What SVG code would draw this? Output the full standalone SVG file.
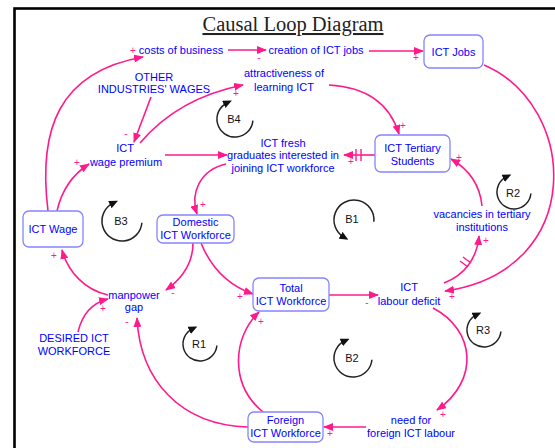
<svg xmlns="http://www.w3.org/2000/svg" width="555" height="448" viewBox="0 0 555 448">
<style>
.lbl{font-family:"Liberation Sans",Arial,sans-serif;font-size:11px;fill:#0000ff;text-anchor:middle}
.box{fill:#fff;stroke:#8585ff;stroke-width:1.3}
.c{fill:none;stroke:#ff1a8c;stroke-width:1.6;marker-end:url(#ah)}
.h{stroke:#ff1a8c;stroke-width:1.4}
.pm{font-family:"Liberation Sans",Arial,sans-serif;font-size:10px;fill:#ff1a8c;text-anchor:middle}
.lp{fill:none;stroke:#222;stroke-width:1.5;marker-end:url(#lh)}
.lt{font-family:"Liberation Sans",Arial,sans-serif;font-size:11px;fill:#111;text-anchor:middle}
</style>
<defs>
<marker id="ah" markerUnits="userSpaceOnUse" markerWidth="10" markerHeight="8" refX="9" refY="4" orient="auto"><path d="M0,0 L10,4 L0,8 z" fill="#ff1a8c"/></marker>
<marker id="lh" markerUnits="userSpaceOnUse" markerWidth="9" markerHeight="8" refX="4" refY="4" orient="auto"><path d="M0,0 L9,4 L0,8 z" fill="#111"/></marker>
</defs>
<rect x="0" y="0" width="555" height="448" fill="#fff"/>
<rect x="14.5" y="8.5" width="620" height="500" fill="none" stroke="#000" stroke-width="2.6"/>
<text x="293" y="31" font-family="Liberation Serif,'Times New Roman',serif" font-size="20.5" fill="#222" text-anchor="middle" text-decoration="underline">Causal Loop Diagram</text>

<g id="connectors">
<path class="c" d="M228,50 L266,50"/>
<path class="c" d="M369,51 L423,51"/>
<path class="c" d="M151,97 L134,142"/>
<path class="c" d="M140,143 Q178,98 243,85"/>
<path class="c" d="M329,85 Q385,88 399,134"/>
<path class="c" d="M165,155 L227,155"/>
<path class="c" d="M375,155 L344,155"/>
<line class="h" x1="356" y1="149" x2="356" y2="161"/>
<line class="h" x1="361" y1="149" x2="361" y2="161"/>
<path class="c" d="M226,164 C200,170 190,193 197,214"/>
<path class="c" d="M48,211 C38,130 58,72 143,57"/>
<path class="c" d="M57,211 Q64,180 89,164"/>
<path class="c" d="M108,295 C85,290 68,272 62,250"/>
<path class="c" d="M193,243 C193,265 180,280 166,290"/>
<path class="c" d="M201,243 C212,270 230,286 253,294"/>
<path class="c" d="M78,332 C82,315 92,303 108,299"/>
<path class="c" d="M248,427 C180,425 140,380 137,318"/>
<path class="c" d="M263,412 C230,385 232,338 259,312"/>
<path class="c" d="M329,295 L378,295"/>
<path class="c" d="M484,65 C578,105 588,270 445,291"/>
<path class="c" d="M444,283 C465,275 477,258 479,236"/>
<line class="h" x1="460" y1="261" x2="468" y2="267"/>
<line class="h" x1="463" y1="257" x2="471" y2="263"/>
<path class="c" d="M482,206 C480,185 470,170 451,159"/>
<path class="c" d="M433,308 C475,330 480,380 437,410"/>
<path class="c" d="M366,427 L324,427"/>
</g>

<g id="polarities">
<text class="pm" x="133" y="54">+</text>
<text class="pm" x="259" y="61">-</text>
<text class="pm" x="416" y="61">+</text>
<text class="pm" x="126" y="137">-</text>
<text class="pm" x="236" y="97">+</text>
<text class="pm" x="403" y="129">+</text>
<text class="pm" x="351" y="165">+</text>
<text class="pm" x="203" y="208">+</text>
<text class="pm" x="77" y="166">+</text>
<text class="pm" x="54" y="259">+</text>
<text class="pm" x="173" y="296">-</text>
<text class="pm" x="240" y="300">+</text>
<text class="pm" x="103" y="312">+</text>
<text class="pm" x="127" y="325">-</text>
<text class="pm" x="261" y="325">+</text>
<text class="pm" x="367" y="306">-</text>
<text class="pm" x="452" y="300">+</text>
<text class="pm" x="486" y="244">+</text>
<text class="pm" x="459" y="161">+</text>
<text class="pm" x="443" y="418">+</text>
<text class="pm" x="330" y="437">+</text>
</g>

<g id="loops">
<path class="lp" d="M252.9,120.6 A18,18 0 1 1 227.4,102.7"/><text class="lt" x="234" y="123">B4</text>
<path class="lp" d="M141.9,222.7 A20,20 0 1 1 113.5,202.9"/><text class="lt" x="121" y="225">B3</text>
<path class="lp" d="M216.9,345.5 A17,17 0 1 1 192.8,328.6"/><text class="lt" x="199" y="348">R1</text>
<path class="lp" d="M371.9,359.7 A19,19 0 1 1 345,340.8"/><text class="lt" x="352" y="362">B2</text>
<path class="lp" d="M530.9,193.5 A17,17 0 1 1 506.8,176.6"/><text class="lt" x="513" y="197">R2</text>
<path class="lp" d="M500.9,331.5 A17,17 0 1 1 476.8,314.6"/><text class="lt" x="483" y="334">R3</text>
<path class="lp" d="M373.9,221.7 A20,20 0 1 0 344,237.3"/><text class="lt" x="352" y="223">B1</text>
</g>

<g id="costs"><text class="lbl" x="181" y="54">costs of business</text></g>
<g id="creation"><text class="lbl" x="316" y="54">creation of ICT jobs</text></g>
<g id="ictjobs"><rect class="box" x="424" y="35" width="59" height="33" rx="6"/><text class="lbl" x="453.5" y="56">ICT Jobs</text></g>
<g id="otherwages"><text class="lbl" x="154" y="81">OTHER</text><text class="lbl" x="154" y="93">INDUSTRIES' WAGES</text></g>
<g id="wagepremium"><text class="lbl" x="125" y="152">ICT</text><text class="lbl" x="126" y="166">wage premium</text></g>
<g id="attractiveness"><text class="lbl" x="284" y="77">attractiveness of</text><text class="lbl" x="284" y="91">learning ICT</text></g>
<g id="tertiary"><rect class="box" x="375" y="135" width="75" height="37" rx="6"/><text class="lbl" x="412.5" y="152">ICT Tertiary</text><text class="lbl" x="412.5" y="165">Students</text></g>
<g id="fresh"><text class="lbl" x="283" y="147">ICT fresh</text><text class="lbl" x="283" y="159">graduates interested in</text><text class="lbl" x="283" y="172">joining ICT workforce</text></g>
<g id="domestic"><rect class="box" x="157" y="215" width="77" height="28" rx="6"/><text class="lbl" x="195.5" y="226">Domestic</text><text class="lbl" x="195.5" y="239">ICT Workforce</text></g>
<g id="ictwage"><rect class="box" x="23" y="211" width="60" height="36" rx="6"/><text class="lbl" x="53" y="233">ICT Wage</text></g>
<g id="manpower"><text class="lbl" x="134" y="299">manpower</text><text class="lbl" x="134" y="311">gap</text></g>
<g id="desired"><text class="lbl" x="74" y="342">DESIRED ICT</text><text class="lbl" x="74" y="355">WORKFORCE</text></g>
<g id="total"><rect class="box" x="253" y="278" width="76" height="33" rx="6"/><text class="lbl" x="291" y="292">Total</text><text class="lbl" x="291" y="305">ICT Workforce</text></g>
<g id="deficit"><text class="lbl" x="409" y="291">ICT</text><text class="lbl" x="409" y="305">labour deficit</text></g>
<g id="vacancies"><text class="lbl" x="482" y="218">vacancies in tertiary</text><text class="lbl" x="482" y="231">institutions</text></g>
<g id="needforeign"><text class="lbl" x="411" y="424">need for</text><text class="lbl" x="411" y="437">foreign ICT labour</text></g>
<g id="foreign"><rect class="box" x="248" y="412" width="75" height="30" rx="6"/><text class="lbl" x="285.5" y="424">Foreign</text><text class="lbl" x="285.5" y="437">ICT Workforce</text></g>
</svg>
